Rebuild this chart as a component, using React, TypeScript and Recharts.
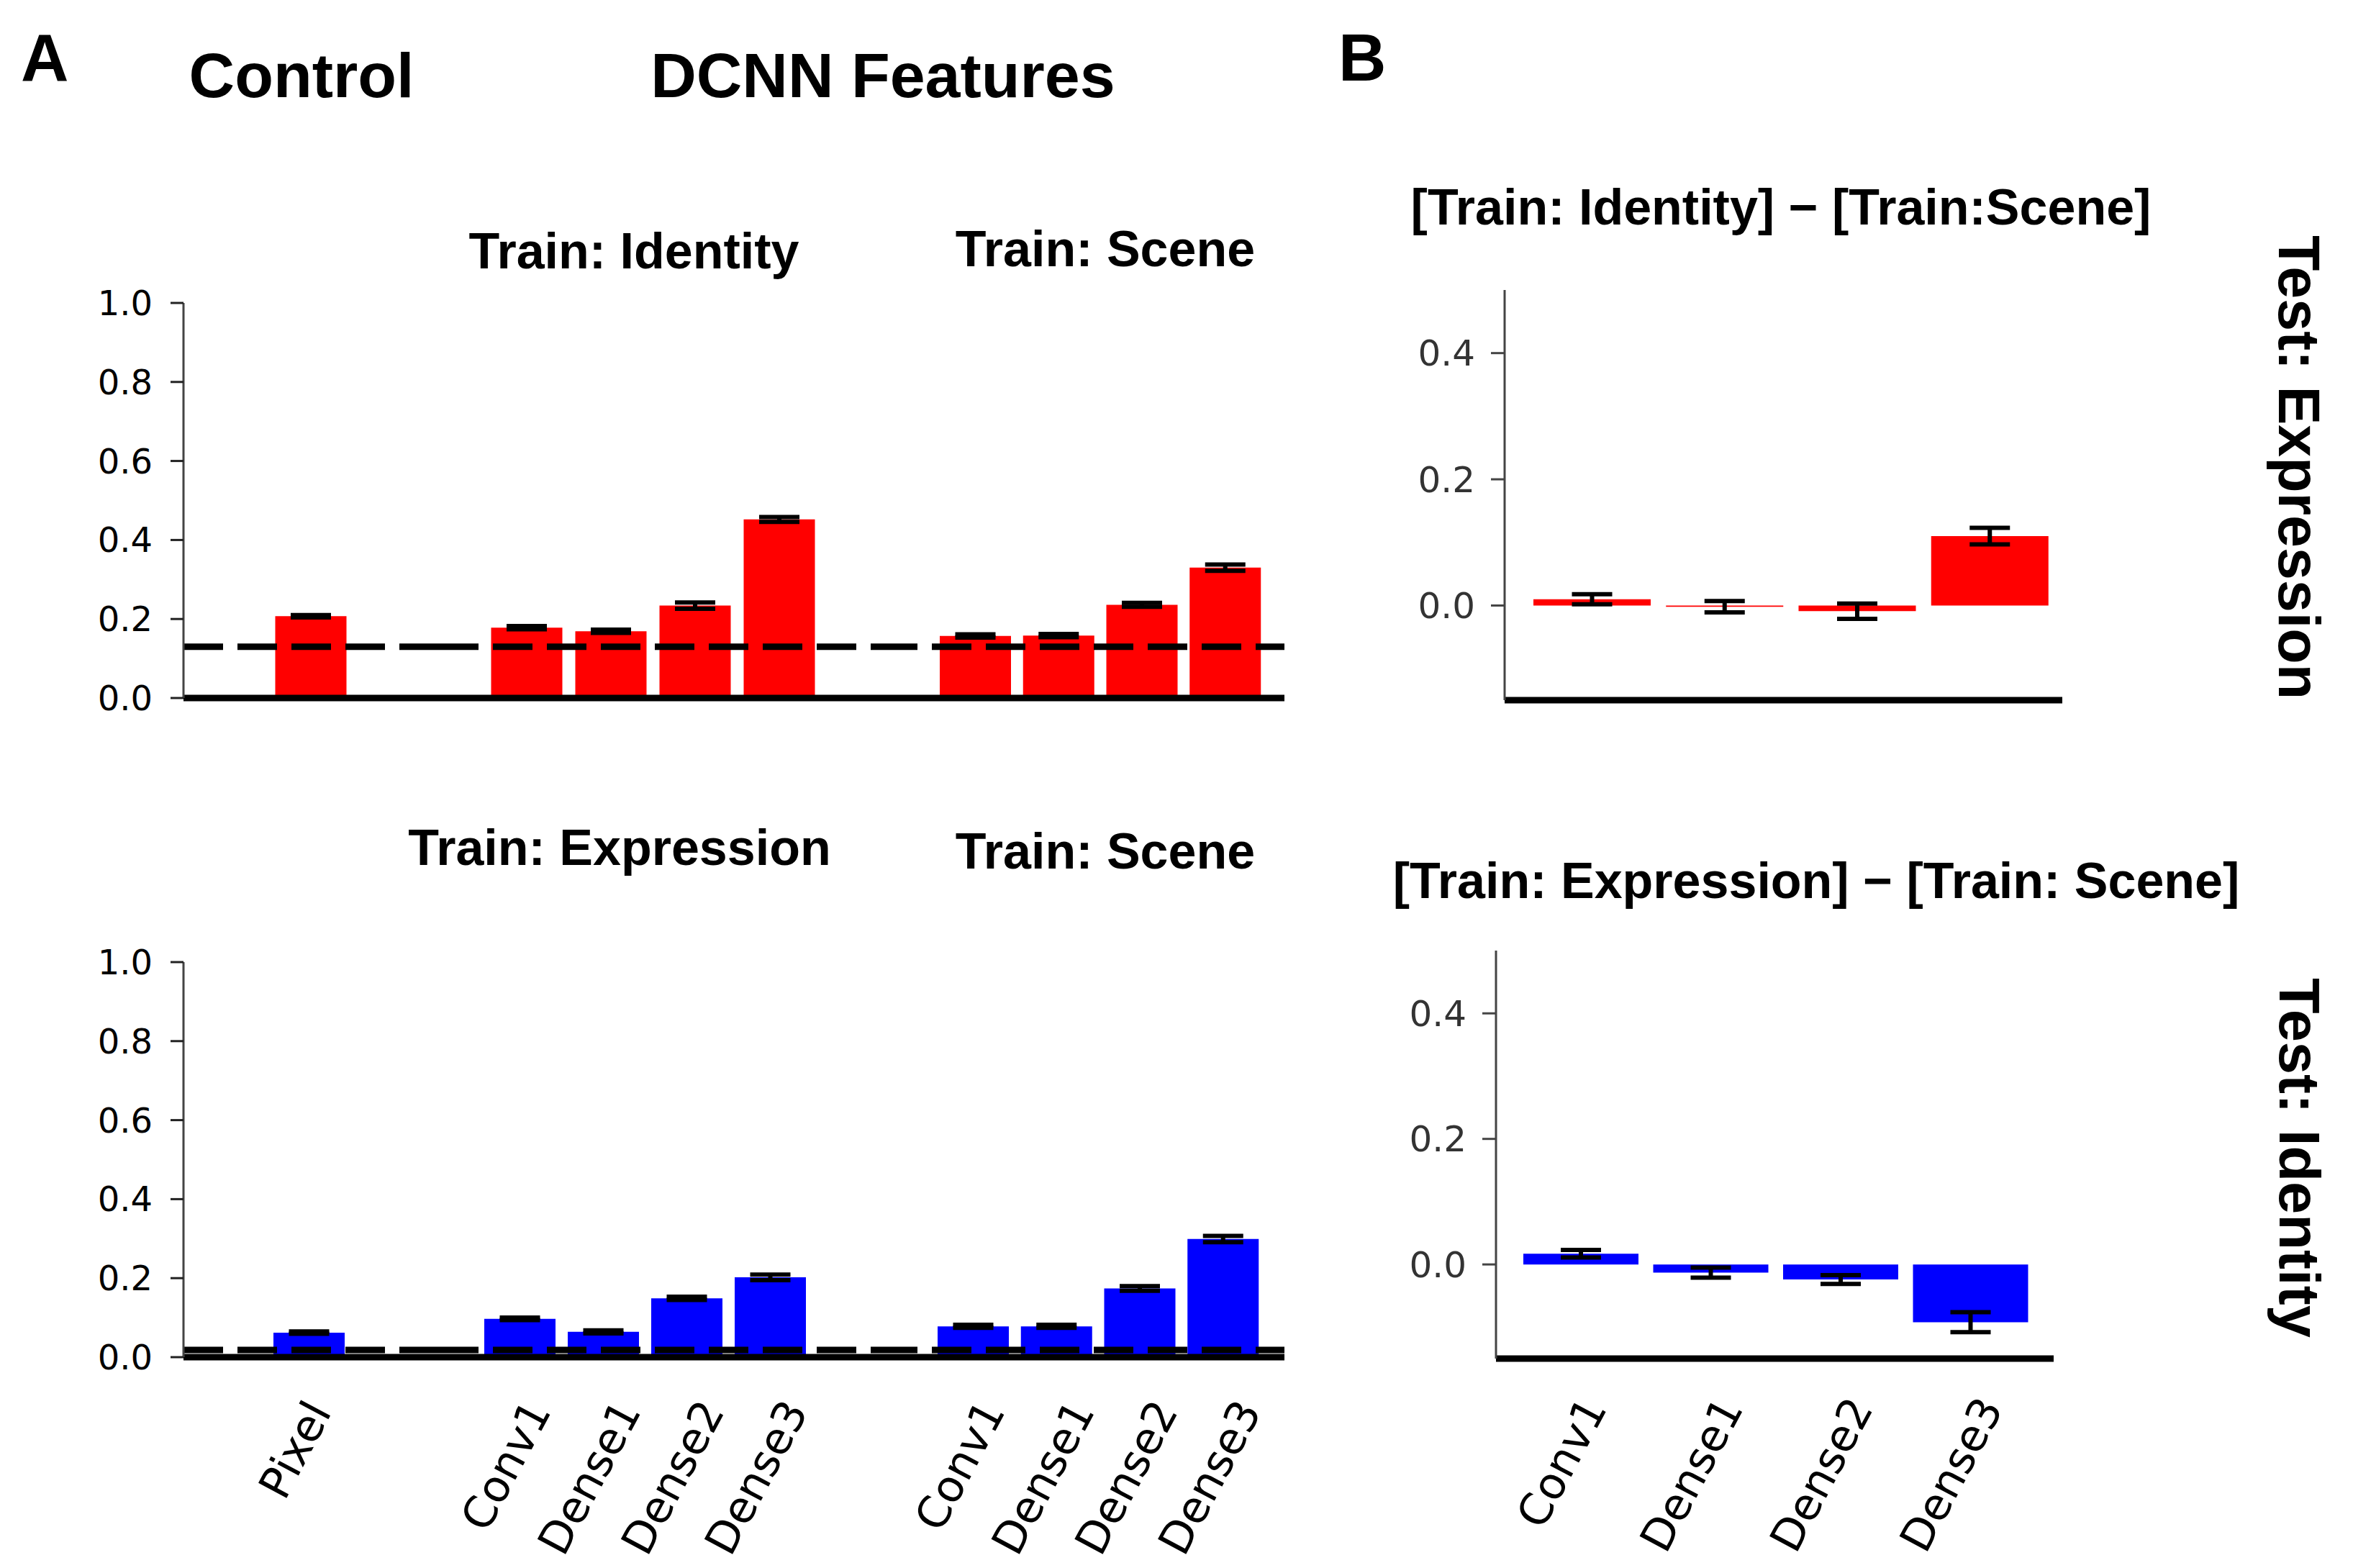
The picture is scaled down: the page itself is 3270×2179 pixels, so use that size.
import React from 'react';
import { BarChart, Bar, XAxis, YAxis, ErrorBar, ReferenceLine } from 'recharts';

// ---------- data ----------
const controlLabels = ['Pixel'];
const layerLabels = ['Conv1', 'Dense1', 'Dense2', 'Dense3'];

// Test: Expression (top row, panel A)
const exprPixel = [0.207];
const exprPixelErr = [0.003];
const exprTrainIdentity = [0.178, 0.169, 0.234, 0.452];
const exprTrainIdentityErr = [0.004, 0.004, 0.008, 0.006];
const exprTrainScene = [0.157, 0.158, 0.236, 0.33];
const exprTrainSceneErr = [0.004, 0.004, 0.005, 0.008];
const exprChance = 0.13;

// Test: Identity (bottom row, panel A)
const idPixel = [0.062];
const idPixelErr = [0.003];
const idTrainExpression = [0.097, 0.064, 0.149, 0.202];
const idTrainExpressionErr = [0.003, 0.004, 0.004, 0.007];
const idTrainScene = [0.078, 0.078, 0.174, 0.299];
const idTrainSceneErr = [0.004, 0.004, 0.006, 0.008];
const idChance = 0.018;

// Panel B differences
const diffExpr = [0.01, -0.002, -0.009, 0.11];
const diffExprErr = [0.008, 0.009, 0.012, 0.013];
const diffId = [0.017, -0.013, -0.024, -0.092];
const diffIdErr = [0.006, 0.008, 0.007, 0.016];

const yTicksA = [0, 0.2, 0.4, 0.6, 0.8, 1.0];
const yTicksB = [0, 0.2, 0.4];
const yDomainA = [0, 1];
const yDomainB = [-0.15, 0.5];

const rows = (labels: string[], values: number[], errs: number[]) =>
  labels.map((name, i) => ({ name, value: values[i], err: errs[i] }));

const RED = '#ff0000';
const BLUE = '#0000ff';

// approximate DejaVu Sans advance widths (em) for laying out rotated labels
const GLYPH_W: Record<string, number> = {
  P: 0.603, i: 0.278, x: 0.592, e: 0.615, l: 0.278, C: 0.698, o: 0.612,
  n: 0.634, v: 0.592, '1': 0.636, '2': 0.636, '3': 0.636, D: 0.77, s: 0.521,
};
const textWidth = (s: string, fs: number) =>
  s.split('').reduce((a, c) => a + (GLYPH_W[c] ?? 0.6), 0) * fs;

const LABEL_FS = 61;
const LABEL_ANGLE = 62;

// matplotlib-like rotated label: bbox centred at tick (+dx), top of bbox at axis + dy
const makeTick = (dx: number, dy: number) => (props: any) => {
  const { x, y, payload } = props;
  const s = String(payload.value);
  const rad = (LABEL_ANGLE * Math.PI) / 180;
  const L = textWidth(s, LABEL_FS);
  const capH = 0.73 * LABEL_FS;
  const H = L * Math.sin(rad) + capH * Math.cos(rad);
  const offX = -(capH / 2) * Math.sin(rad);
  const offY = -(capH / 2) * Math.cos(rad);
  const cx = x + dx;
  const cy = y + dy + H / 2;
  const ax = cx - offX;
  const ay = cy - offY;
  return (
    <text
      x={ax}
      y={ay}
      transform={`rotate(${-LABEL_ANGLE} ${ax} ${ay})`}
      textAnchor="middle"
      fontFamily="DejaVu Sans"
      fontSize={LABEL_FS}
      fill="#000"
    >
      {s}
    </text>
  );
};

const TickA = makeTick(-20, 54);
const TickB = makeTick(-28, 48);

type GroupProps = {
  data: any[];
  left: number;
  top: number;
  width: number;
  height: number;
  padL: number;
  padR: number;
  color: string;
  barSize: number;
  yWidth?: number;
  yDomain: number[];
  yTicks?: number[];
  chance?: number;
  tick?: any;
  xHeight: number;
  tickFill?: string;
  yAxisColor?: string;
  tickLen?: number;
  tickGap?: number;
  tickFont?: number;
};

const MT = 40;

const Group = (p: GroupProps) => {
  const TickComp = p.tick;
  return (
    <div style={{ position: 'absolute', left: p.left, top: p.top }}>
      <BarChart
        width={p.width}
        height={p.height}
        data={p.data}
        margin={{ top: MT, right: 0, bottom: 0, left: 0 }}
        barCategoryGap={0}
      >
        <XAxis
          dataKey="name"
          type="category"
          padding={{ left: p.padL, right: p.padR }}
          axisLine={{ stroke: '#000', strokeWidth: 9 }}
          tickLine={false}
          tickSize={0}
          tickMargin={0}
          interval={0}
          height={p.xHeight}
          tick={TickComp ? <TickComp /> : false}
        />
        {p.yWidth ? (
          <YAxis
            type="number"
            domain={p.yDomain}
            ticks={p.yTicks}
            width={p.yWidth}
            interval={0}
            tickFormatter={(v: number) => v.toFixed(1)}
            axisLine={{ stroke: p.yAxisColor || '#444', strokeWidth: 3 }}
            tickLine={{ stroke: p.yAxisColor || '#222', strokeWidth: 3 }}
            tickSize={p.tickLen || 18}
            tickMargin={p.tickGap || 25}
            tick={{ fontFamily: 'DejaVu Sans', fontSize: p.tickFont || 48, fill: p.tickFill || '#000' }}
          />
        ) : (
          <YAxis type="number" domain={p.yDomain} hide />
        )}
        <Bar dataKey="value" fill={p.color} barSize={p.barSize} isAnimationActive={false}>
          <ErrorBar dataKey="err" width={28} strokeWidth={6} stroke="#000" direction="y" />
        </Bar>
        {p.chance !== undefined && (
          <ReferenceLine y={p.chance} stroke="#000" strokeWidth={9} strokeDasharray="55 20" />
        )}
      </BarChart>
    </div>
  );
};

const T = (props: any) => (
  <text fontFamily="Liberation Sans, Arial, sans-serif" fontWeight="bold" fill="#000" {...props} />
);

export default function App() {
  const topTop = 421 - MT;
  const topH = MT + 549 + 40;
  const botTop = 1337 - MT;
  const botH = MT + 549 + 285;
  return (
    <div
      style={{
        position: 'absolute',
        left: 0,
        top: 0,
        width: 3270,
        height: 2179,
        background: '#fff',
        overflow: 'hidden',
      }}
    >
      <svg
        width={3270}
        height={2179}
        style={{ position: 'absolute', left: 0, top: 0 }}
      >
        <T x={29} y={112} fontSize={92}>A</T>
        <T x={419} y={135} fontSize={88} textAnchor="middle">Control</T>
        <T x={1227} y={135} fontSize={88} textAnchor="middle">DCNN Features</T>
        <T x={1860} y={112} fontSize={92}>B</T>

        <T x={881} y={373} fontSize={70} textAnchor="middle">Train: Identity</T>
        <T x={1536} y={370} fontSize={70} textAnchor="middle">Train: Scene</T>
        <T x={861} y={1202} fontSize={70} textAnchor="middle">Train: Expression</T>
        <T x={1536} y={1207} fontSize={70} textAnchor="middle">Train: Scene</T>

        <T x={2475} y={312} fontSize={70} textAnchor="middle">[Train: Identity] − [Train:Scene]</T>
        <T x={2524} y={1248} fontSize={70} textAnchor="middle">[Train: Expression] − [Train: Scene]</T>

        <T x={3167} y={327} fontSize={81} transform="rotate(90 3167 327)" textLength={645} lengthAdjust="spacingAndGlyphs">
          Test: Expression
        </T>
        <T x={3168} y={1359} fontSize={80} transform="rotate(90 3168 1359)" textLength={500} lengthAdjust="spacingAndGlyphs">
          Test: Identity
        </T>
      </svg>

      {/* Panel A, top row (Test: Expression) */}
      <Group
        data={rows(controlLabels, exprPixel, exprPixelErr)}
        left={100} top={topTop} width={510} height={topH}
        padL={118.5} padR={119.5} color={RED} barSize={99}
        yWidth={155} yDomain={yDomainA} yTicks={yTicksA}
        chance={exprChance} xHeight={40}
      />
      <Group
        data={rows(layerLabels, exprTrainIdentity, exprTrainIdentityErr)}
        left={610} top={topTop} width={610} height={topH}
        padL={63.5} padR={78.5} color={RED} barSize={99}
        yDomain={yDomainA} chance={exprChance} xHeight={40}
      />
      <Group
        data={rows(layerLabels, exprTrainScene, exprTrainSceneErr)}
        left={1220} top={topTop} width={565} height={topH}
        padL={78} padR={24} color={RED} barSize={99}
        yDomain={yDomainA} chance={exprChance} xHeight={40}
      />

      {/* Panel A, bottom row (Test: Identity) */}
      <Group
        data={rows(controlLabels, idPixel, idPixelErr)}
        left={100} top={botTop} width={510} height={botH}
        padL={116} padR={123} color={BLUE} barSize={99}
        yWidth={155} yDomain={yDomainA} yTicks={yTicksA}
        chance={idChance} xHeight={285} tick={TickA}
      />
      <Group
        data={rows(layerLabels, idTrainExpression, idTrainExpressionErr)}
        left={610} top={botTop} width={610} height={botH}
        padL={54} padR={92} color={BLUE} barSize={99}
        yDomain={yDomainA} chance={idChance} xHeight={285} tick={TickA}
      />
      <Group
        data={rows(layerLabels, idTrainScene, idTrainSceneErr)}
        left={1220} top={botTop} width={565} height={botH}
        padL={75} padR={27} color={BLUE} barSize={99}
        yDomain={yDomainA} chance={idChance} xHeight={285} tick={TickA}
      />

      {/* Panel B */}
      <Group
        data={rows(layerLabels, diffExpr, diffExprErr)}
        left={1930} top={403 - MT} width={936} height={MT + 570 + 40}
        padL={29} padR={9} color={RED} barSize={163}
        yWidth={161} yDomain={yDomainB} yTicks={yTicksB}
        xHeight={40} tickFill="#333" yAxisColor="#444" tickLen={19} tickGap={22} tickFont={50}
      />
      <Group
        data={rows(layerLabels, diffId, diffIdErr)}
        left={1918} top={1321 - MT} width={936} height={MT + 567 + 285}
        padL={28} padR={25} color={BLUE} barSize={160}
        yWidth={161} yDomain={yDomainB} yTicks={yTicksB}
        xHeight={285} tick={TickB} tickFill="#333" yAxisColor="#444" tickLen={19} tickGap={22} tickFont={50}
      />
    </div>
  );
}
